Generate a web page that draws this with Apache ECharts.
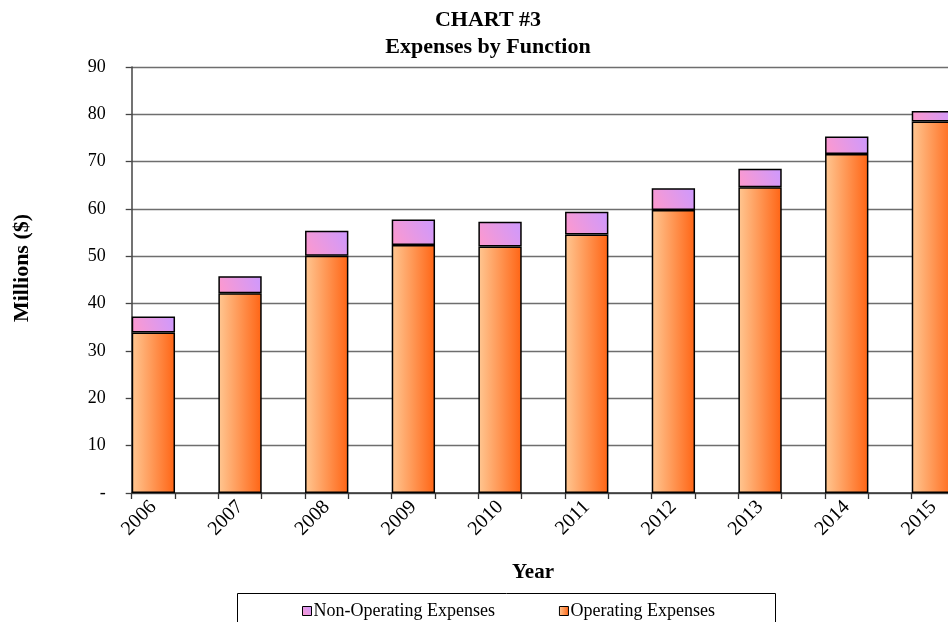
<!DOCTYPE html>
<html>
<head>
<meta charset="utf-8">
<script src="https://cdn.jsdelivr.net/npm/echarts@6/dist/echarts.min.js"></script>
<style>
html,body{margin:0;padding:0;background:#fff;overflow:hidden;}
#chart{width:1000px;height:622px;}
</style>
</head>
<body>
<div id="chart"></div>
<script>
var years = ['2006','2007','2008','2009','2010','2011','2012','2013','2014','2015'];
var operating = [33.9, 42.2, 50.1, 52.4, 52.1, 54.6, 59.8, 64.6, 71.6, 78.5];
var nonOperating = [3.4, 3.6, 5.3, 5.4, 5.2, 4.8, 4.6, 3.9, 3.7, 2.2];
var yTicks = ['-', '10', '20', '30', '40', '50', '60', '70', '80', '90'];

var FONT = '"Liberation Serif", "Times New Roman", serif';

// each year occupies two half-slots: bar in the first, gap in the second
var axisCats = [];
years.forEach(function (y) { axisCats.push(y); axisCats.push(''); });
function spread(arr) {
  var out = [];
  arr.forEach(function (v) { out.push(v); out.push(null); });
  return out;
}

var opColor = new echarts.graphic.LinearGradient(0, 0, 1, 0, [
  { offset: 0, color: '#FFC792' },
  { offset: 1, color: '#FF6414' }
]);
var nonOpColor = new echarts.graphic.LinearGradient(0, 1, 1, 0, [
  { offset: 0, color: '#FF99CC' },
  { offset: 1, color: '#CC99FF' }
]);

var chart = echarts.init(document.getElementById('chart'), null, { renderer: 'canvas' });
chart.setOption({
  animation: false,
  backgroundColor: '#ffffff',
  textStyle: { fontFamily: FONT },
  title: {
    text: 'CHART #3\nExpenses by Function',
    left: 483,
    top: 2,
    textAlign: 'center',
    textStyle: { fontFamily: FONT, fontSize: 22, fontWeight: 'bold', color: '#000', lineHeight: 27 }
  },
  legend: {
    data: ['Non-Operating Expenses', 'Operating Expenses'],
    left: 297,
    top: 597,
    icon: 'rect',
    itemWidth: 9,
    itemHeight: 9,
    itemGap: 64,
    textStyle: { fontFamily: FONT, fontSize: 18, color: '#000', padding: [0, 0, 0, -3] },
    itemStyle: { borderColor: '#000', borderWidth: 1 }
  },
  grid: {
    left: 131.7,
    top: 67,
    width: 866.7,
    bottom: 129,
    containLabel: false
  },
  xAxis: {
    type: 'category',
    data: axisCats,
    boundaryGap: true,
    axisLine: { show: true, lineStyle: { color: '#333', width: 1.5 } },
    axisTick: { show: true, interval: 0, length: 6, lineStyle: { color: '#333', width: 1.3 } },
    axisLabel: {
      interval: 0,
      rotate: 45,
      margin: 11,
      fontFamily: FONT,
      fontSize: 20,
      color: '#000'
    },
    splitLine: { show: false }
  },
  yAxis: {
    type: 'value',
    min: 0,
    max: 90,
    interval: 10,
    axisLine: { show: true, lineStyle: { color: '#444', width: 1.5 } },
    axisTick: { show: true, length: 6, lineStyle: { color: '#444', width: 1.3 } },
    axisLabel: {
      margin: 26,
      fontFamily: FONT,
      fontSize: 18,
      color: '#000',
      formatter: function (v) { return yTicks[Math.round(v / 10)]; }
    },
    splitLine: { show: true, lineStyle: { color: '#6e6e6e', width: 1.3 } }
  },
  graphic: [
    {
      type: 'text',
      x: 533,
      y: 573,
      style: { text: 'Year', font: 'bold 21px ' + FONT, fill: '#000', align: 'center', verticalAlign: 'middle' }
    },
    {
      type: 'text',
      x: 22,
      y: 268,
      rotation: Math.PI / 2,
      style: { text: 'Millions ($)', font: 'bold 22px ' + FONT, fill: '#000', align: 'center', verticalAlign: 'middle' }
    },
    {
      type: 'rect',
      shape: { x: 237.5, y: 593.5, width: 538, height: 40 },
      style: { fill: 'none', stroke: '#000', lineWidth: 1 },
      z: 10
    }
  ],
  series: [
    {
      name: 'Operating Expenses',
      type: 'bar',
      stack: 'total',
      data: spread(operating),
      barCategoryGap: '0%',
      itemStyle: { color: opColor, borderColor: '#000', borderWidth: 1.5 }
    },
    {
      name: 'Non-Operating Expenses',
      type: 'bar',
      stack: 'total',
      data: spread(nonOperating),
      barCategoryGap: '0%',
      itemStyle: { color: nonOpColor, borderColor: '#000', borderWidth: 1.5 }
    }
  ]
});
</script>
</body>
</html>
